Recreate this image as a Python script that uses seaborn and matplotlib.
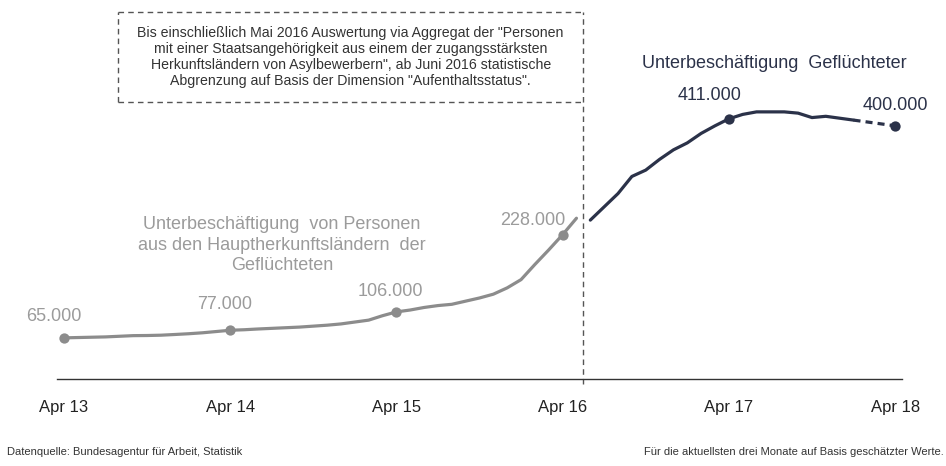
import numpy as np
import pandas as pd
import matplotlib
matplotlib.use("Agg")
import matplotlib.pyplot as plt
import seaborn as sns

# monthly values, month index 0 = Apr 13
grey_months = list(range(0, 38))
grey_values = [65000, 65500, 66000, 66500, 67500, 68500, 68700, 69200, 70300, 71500,
               73000, 75000, 77000, 77800, 79000, 80000, 81000, 82000, 83500, 85000,
               87000, 90000, 93000, 100000, 106000, 109000, 113000, 116000, 118000, 123000,
               128000, 134000, 144000, 157000, 181000, 204000, 228000, 254000]

navy_months = list(range(38, 61))
navy_values = [251000, 272000, 293000, 320000, 330000, 347000, 362000, 373000, 388000, 400000,
               411000, 418000, 422000, 422000, 422000, 420000, 413000, 415000, 412000, 409000,
               406000, 403000, 400000]
n_estimated = 3  # last three months estimated (dashed)

tick_months = [0, 12, 24, 36, 48, 60]
tick_labels = ["Apr 13", "Apr 14", "Apr 15", "Apr 16", "Apr 17", "Apr 18"]
break_month = 37.5  # between May and Jun 2016

grey_marks = [0, 12, 24, 36]
navy_marks = [48, 60]

GREY = "#8c8c8c"
GREY_TXT = "#9b9b9b"
NAVY = "#2b3249"

sns.set_style("white")
plt.rcParams["font.family"] = ["Liberation Sans", "DejaVu Sans"]

grey_df = pd.DataFrame({"month": grey_months, "value": grey_values})
navy_df = pd.DataFrame({"month": navy_months, "value": navy_values})
solid_df = navy_df.iloc[:len(navy_df) - n_estimated]
est_df = navy_df.iloc[len(navy_df) - n_estimated - 1:]

fig = plt.figure(figsize=(9.46, 4.66), dpi=100)
ax = fig.add_axes([57 / 946, 87 / 466, 845 / 946, 379 / 466])
px = 0.000633  # pixels per person
ax.set_xlim(-0.5, 60.5)
ax.set_ylim(0, 379 / px)

sns.lineplot(data=grey_df, x="month", y="value", ax=ax, color=GREY, linewidth=2.3)
sns.lineplot(data=solid_df, x="month", y="value", ax=ax, color=NAVY, linewidth=2.3)
sns.lineplot(data=est_df, x="month", y="value", ax=ax, color=NAVY, linewidth=2.3,
             linestyle=(0, (2.2, 1.6)))

gm = grey_df[grey_df["month"].isin(grey_marks)]
nm = navy_df[navy_df["month"].isin(navy_marks)]
ax.scatter(gm["month"], gm["value"], s=55, color=GREY, zorder=5, linewidths=0)
ax.scatter(nm["month"], nm["value"], s=55, color=NAVY, zorder=5, linewidths=0)

def fmt(v):
    return f"{v:,.0f}".replace(",", ".")

offsets = {0: (-10, 21, "center"), 12: (-6, 26, "center"), 24: (-6, 20, "center"),
           36: (3, 14, "right"), 48: (-19, 23, "center"), 60: (0, 20, "center")}
for _, r in pd.concat([gm, nm]).iterrows():
    dx, dy, ha = offsets[int(r["month"])]
    col = GREY_TXT if r["month"] <= 36 else NAVY
    ax.annotate(fmt(round(r["value"], -3)), (r["month"], r["value"]),
                xytext=(dx, dy), textcoords="offset pixels", ha=ha, va="center",
                fontsize=13, color=col)

# series labels
ax.text(15.74, (379 - 245) / px,
        "Unterbeschäftigung  von Personen\naus den Hauptherkunftsländern  der\nGeflüchteten",
        ha="center", va="center", fontsize=13, color=GREY_TXT, linespacing=1.3)
ax.text(51.3, (379 - 63) / px, "Unterbeschäftigung  Geflüchteter",
        ha="center", va="center", fontsize=13, color=NAVY)

# break line and note box
box_left = (118 - 64) / 13.85
box_top = (379 - 12) / px
box_bottom = (379 - 102) / px
dash = (0, (4, 3))
ax.plot([break_month, break_month], [-5 / px, box_top], color="#555555", lw=1,
        linestyle=dash, clip_on=False)
ax.plot([box_left, break_month], [box_top, box_top], color="#555555", lw=1, linestyle=dash)
ax.plot([box_left, break_month], [box_bottom, box_bottom], color="#555555", lw=1, linestyle=dash)
ax.plot([box_left, box_left], [box_bottom, box_top], color="#555555", lw=1, linestyle=dash)
ax.text((box_left + break_month) / 2, (379 - 57) / px,
        'Bis einschließlich Mai 2016 Auswertung via Aggregat der "Personen\n'
        'mit einer Staatsangehörigkeit aus einem der zugangsstärksten\n'
        'Herkunftsländern von Asylbewerbern", ab Juni 2016 statistische\n'
        'Abgrenzung auf Basis der Dimension "Aufenthaltsstatus".',
        ha="center", va="center", fontsize=10.2, color="#333333", linespacing=1.2)

# axes styling
for s in ["top", "right", "left"]:
    ax.spines[s].set_visible(False)
ax.spines["bottom"].set_color("#333333")
ax.spines["bottom"].set_linewidth(1)
ax.set_yticks([])
ax.set_xticks(tick_months)
ax.set_xticklabels(tick_labels, fontsize=12, color="#222222")
ax.tick_params(axis="x", length=0, pad=15)
ax.set_xlabel("")
ax.set_ylabel("")

fig.text(7 / 946, 1 - 452 / 466, "Datenquelle: Bundesagentur für Arbeit, Statistik",
         ha="left", va="center", fontsize=8, color="#333333")
fig.text(944 / 946, 1 - 452 / 466, "Für die aktuellsten drei Monate auf Basis geschätzter Werte.",
         ha="right", va="center", fontsize=8, color="#333333")

fig.savefig("out.png", dpi=100)
